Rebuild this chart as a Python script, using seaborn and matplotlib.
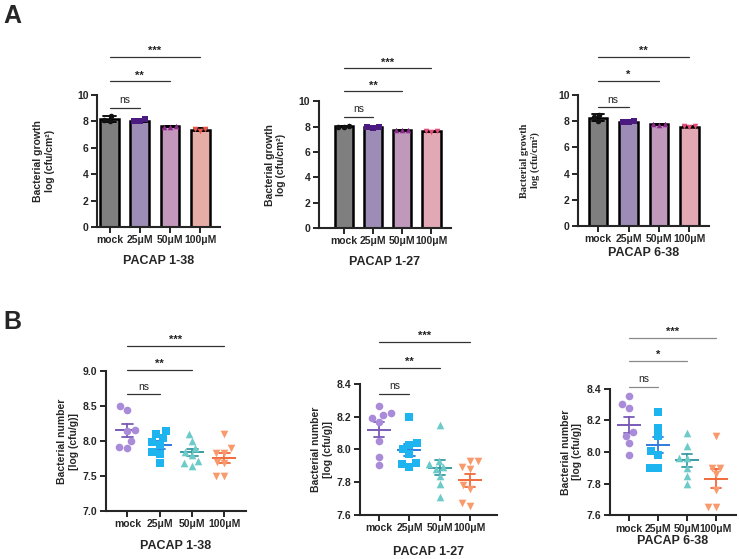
import matplotlib
matplotlib.use('Agg')
import matplotlib.pyplot as plt
import pandas as pd
import seaborn as sns

groups = ['mock', '25μM', '50μM', '100μM']
titles = ['PACAP 1-38', 'PACAP 1-27', 'PACAP 6-38']

# A : bacterial growth log (cfu/cm2), n=3 per group
a1_values = [[8.40, 8.00, 8.10], [8.00, 8.15, 8.05], [7.60, 7.65, 7.60], [7.25, 7.45, 7.40]]
a2_values = [[8.00, 8.05, 8.00], [7.90, 8.00, 7.95], [7.70, 7.75, 7.70], [7.60, 7.65, 7.65]]
a3_values = [[8.50, 8.00, 8.30], [7.90, 8.00, 7.95], [7.70, 7.80, 7.75], [7.55, 7.60, 7.60]]
a_sig = [['ns', '**', '***'], ['ns', '**', '***'], ['ns', '*', '**']]

# B : bacterial number log (cfu/g)
b1_values = [[8.50, 8.45, 8.16, 8.14, 8.00, 7.90, 7.92],
             [8.10, 8.15, 7.98, 8.05, 7.85, 7.95, 7.68, 7.82],
             [8.10, 8.00, 7.90, 7.85, 7.80, 7.65, 7.68, 7.72],
             [8.10, 7.90, 7.83, 7.83, 7.70, 7.68, 7.50, 7.50]]
b2_values = [[8.265, 8.22, 8.195, 8.21, 8.17, 8.05, 7.955, 7.905],
             [8.20, 8.03, 8.04, 7.97, 8.00, 7.91, 7.92, 7.89],
             [8.15, 7.93, 7.91, 7.88, 7.89, 7.84, 7.79, 7.71],
             [7.93, 7.93, 7.89, 7.88, 7.76, 7.78, 7.655, 7.67]]
b3_values = [[8.354, 8.274, 8.303, 8.10, 8.124, 8.055, 7.983],
             [8.253, 8.154, 8.103, 8.004, 7.983, 7.90, 7.90],
             [8.12, 8.04, 7.96, 7.96, 7.90, 7.85, 7.80],
             [8.10, 7.90, 7.90, 7.86, 7.76, 7.65, 7.65]]
b_sig = [['ns', '**', '***'], ['ns', '**', '***'], ['ns', '*', '***']]

markers = ['o', 's', '^', 'v']
bar_cols_1 = ['#7f7f7f', '#9c86bd', '#cb8fc0', '#f0a59c']
bar_cols_2 = ['#7f7f7f', '#9c86bd', '#c592c1', '#eba0ae']
dot_cols_1 = ['#111111', '#4a1a80', '#8c2a8c', '#ec5546']
dot_cols_2 = ['#111111', '#4a1a80', '#8c2a8c', '#e84a78']
b_dot_cols = ['#a98bd9', '#1eb4f0', '#6ccbc9', '#f99a6c']
b_mean_cols = ['#7a5bb8', '#2f7be0', '#3a9ca3', '#f06a3a']

sns.set_style('ticks')
plt.rcParams['font.family'] = ['Liberation Sans', 'DejaVu Sans']
plt.rcParams['font.weight'] = 'bold'
plt.rcParams['axes.labelweight'] = 'bold'


def to_long(values):
    rows = [(g, v) for g, vals in zip(groups, values) for v in vals]
    return pd.DataFrame(rows, columns=['group', 'value'])


def style_axes(ax):
    sns.despine(ax=ax)
    for s in ['left', 'bottom']:
        ax.spines[s].set_linewidth(1.5)
    ax.tick_params(width=1.4, length=4, labelsize=7.5, pad=2)


def sig_lines(ax, heights, labels, color):
    for k, (h, lab) in enumerate(zip(heights, labels)):
        ax.plot([0, k + 1], [h, h], color=color, lw=0.9, clip_on=False)
        ns = lab == 'ns'
        ax.annotate(lab, xy=((k + 1) / 2, h), xytext=(0, 2 if ns else 0.5),
                    textcoords='offset points', ha='center', va='bottom',
                    fontsize=7.5 if ns else 8, fontweight='normal' if ns else 'bold',
                    color='#222222', annotation_clip=False)


def bar_panel(ax, values, bar_cols, dot_cols, title, sig, sig_y, xlim, ypad, tpad, serif=False):
    df = to_long(values)
    sns.barplot(data=df, x='group', y='value', hue='group', order=groups, hue_order=groups,
                palette=bar_cols, errorbar='sd', capsize=0.42, width=0.62,
                edgecolor='black', linewidth=1.8, legend=False,
                err_kws={'color': 'black', 'linewidth': 1.3}, ax=ax)
    for g, m, c in zip(groups, markers, dot_cols):
        sns.swarmplot(data=df[df.group == g], x='group', y='value', order=groups,
                      marker=m, color=c, size=4, linewidth=0, ax=ax)
    ax.set_ylim(0, 10)
    ax.set_yticks([0, 2, 4, 6, 8, 10])
    ax.set_xlim(*xlim)
    style_axes(ax)
    ax.set_xlabel(title, fontsize=9, labelpad=tpad)
    fam = 'Liberation Serif' if serif else 'Liberation Sans'
    ax.set_ylabel('Bacterial growth\nlog (cfu/cm²)', fontsize=7.5, labelpad=ypad, family=fam)
    sig_lines(ax, sig_y, sig, '#333333')


def dot_panel(ax, values, title, sig, sig_y, xlim, ylim, yticks, sig_color, pad):
    df = to_long(values)
    for g, m, c in zip(groups, markers, b_dot_cols):
        sns.swarmplot(data=df[df.group == g], x='group', y='value', order=groups,
                      marker=m, color=c, size=5.5, linewidth=0, ax=ax)
    sns.pointplot(data=df, x='group', y='value', hue='group', order=groups, hue_order=groups,
                  palette=b_mean_cols, errorbar='se', capsize=0.34, markers='_',
                  markersize=17, markeredgewidth=1.4, linestyle='none',
                  err_kws={'linewidth': 1.3}, legend=False, ax=ax)
    ax.set_ylim(*ylim)
    ax.set_yticks(yticks)
    ax.set_xlim(*xlim)
    style_axes(ax)
    ax.set_xlabel(title, fontsize=9, labelpad=pad)
    ax.set_ylabel('Bacterial number\n[log (cfu/g)]', fontsize=7.5, labelpad=3)
    sig_lines(ax, sig_y, sig, sig_color)


fig = plt.figure(figsize=(7.39, 5.59), dpi=100)

ax_a1 = fig.add_axes([0.131, 0.594, 0.167, 0.236])
ax_a2 = fig.add_axes([0.431, 0.592, 0.179, 0.227])
ax_a3 = fig.add_axes([0.782, 0.596, 0.177, 0.234])
bar_panel(ax_a1, a1_values, bar_cols_1, dot_cols_1, titles[0], a_sig[0], [9.04, 11.06, 12.9],
          (-0.42, 3.66), 16, 7)
bar_panel(ax_a2, a2_values, bar_cols_2, dot_cols_2, titles[1], a_sig[1], [8.74, 10.79, 12.6],
          (-0.86, 3.66), 9, 7)
bar_panel(ax_a3, a3_values, bar_cols_2, dot_cols_2, titles[2], a_sig[2], [9.06, 11.09, 12.92],
          (-0.66, 3.63), 13, 2, serif=True)

ax_b1 = fig.add_axes([0.143, 0.086, 0.190, 0.250])
ax_b2 = fig.add_axes([0.487, 0.079, 0.185, 0.234])
ax_b3 = fig.add_axes([0.825, 0.078, 0.171, 0.227])
dot_panel(ax_b1, b1_values, titles[0], b_sig[0], [8.667, 9.02, 9.36], (-0.67, 3.67),
          (7.0, 9.0), [7.0, 7.5, 8.0, 8.5, 9.0], '#333333', 8)
dot_panel(ax_b2, b2_values, titles[1], b_sig[1], [8.34, 8.50, 8.657], (-0.64, 3.88),
          (7.6, 8.4), [7.6, 7.8, 8.0, 8.2, 8.4], '#333333', 9)
dot_panel(ax_b3, b3_values, titles[2], b_sig[2], [8.41, 8.574, 8.72], (-0.66, 3.69),
          (7.6, 8.4), [7.6, 7.8, 8.0, 8.2, 8.4], '#8a8a8a', 1)

fig.text(0.004, 0.992, 'A', fontsize=18, fontweight='bold', va='top')
fig.text(0.004, 0.445, 'B', fontsize=18, fontweight='bold', va='top')

fig.savefig('out.png', dpi=100)
plt.close(fig)
